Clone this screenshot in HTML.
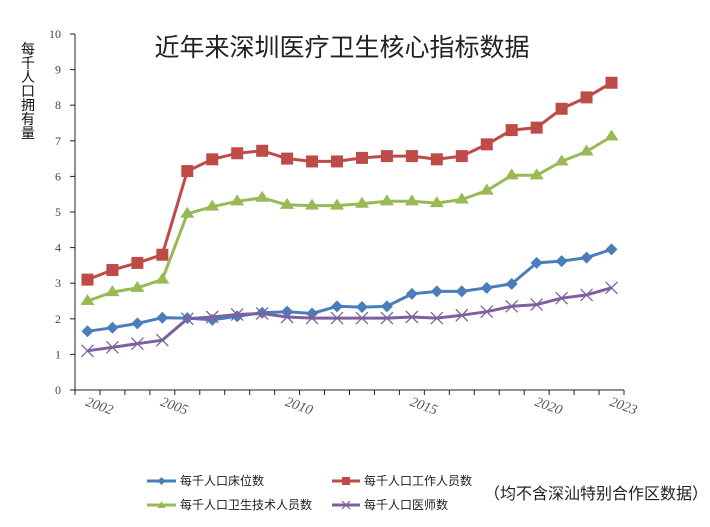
<!DOCTYPE html>
<html><head><meta charset="utf-8"><style>
body{margin:0;background:#fff;}
svg{display:block;font-family:"Liberation Sans","Noto Sans CJK SC",sans-serif;}
</style></head><body>
<svg id="chart" width="710" height="527" viewBox="0 0 710 527">
<text x="342" y="56" text-anchor="middle" font-size="25" fill="#222">近年来深圳医疗卫生核心指标数据</text>
<text x="28" y="54" font-size="14" text-anchor="middle" fill="#111"><tspan x="28" dy="0">每</tspan><tspan x="28" dy="14">千</tspan><tspan x="28" dy="14">人</tspan><tspan x="28" dy="14">口</tspan><tspan x="28" dy="14">拥</tspan><tspan x="28" dy="14">有</tspan><tspan x="28" dy="14">量</tspan></text>
<g id="axes"></g>
<g id="series"></g>
<g font-size="12" fill="#222">
<g><line x1="147" y1="481" x2="176" y2="481" stroke="#4a7ebb" stroke-width="3"/><path d="M161.5 477l4 4-4 4-4-4z" fill="#4a7ebb"/><text x="180" y="485">每千人口床位数</text></g>
<g><line x1="332" y1="481" x2="360" y2="481" stroke="#be4b48" stroke-width="3"/><rect x="342" y="477" width="8" height="8" fill="#be4b48"/><text x="364" y="485">每千人口工作人员数</text></g>
<g><line x1="147" y1="505" x2="176" y2="505" stroke="#98b954" stroke-width="3"/><path d="M161.5 501l4 7h-8z" fill="#98b954"/><text x="180" y="509">每千人口卫生技术人员数</text></g>
<g><line x1="332" y1="505" x2="360" y2="505" stroke="#7d60a0" stroke-width="3"/><path d="M342 501l8 8M350 501l-8 8" stroke="#7d60a0" stroke-width="1.2"/><text x="364" y="509">每千人口医师数</text></g>
</g>
<text x="484" y="499" font-size="16" fill="#222">（均不含深汕特别合作区数据）</text>
</svg>
<script>
const years = [2002,2003,2004,2005,2006,2007,2008,2009,2010,2011,2012,2013,2014,2015,2016,2017,2018,2019,2020,2021,2022,2023];
const beds = [1.65,1.75,1.87,2.03,2.02,1.97,2.07,2.17,2.2,2.15,2.35,2.33,2.35,2.7,2.77,2.77,2.87,2.98,3.57,3.62,3.72,3.95];
const staff = [3.1,3.37,3.57,3.8,6.15,6.48,6.65,6.72,6.5,6.42,6.42,6.52,6.57,6.57,6.48,6.57,6.9,7.3,7.37,7.9,8.22,8.63];
const tech = [2.5,2.75,2.87,3.1,4.95,5.15,5.3,5.4,5.2,5.18,5.18,5.23,5.3,5.3,5.25,5.35,5.6,6.03,6.03,6.42,6.7,7.12];
const doctors = [1.1,1.2,1.3,1.4,2.0,2.05,2.12,2.15,2.05,2.02,2.02,2.02,2.02,2.05,2.02,2.1,2.2,2.35,2.4,2.58,2.67,2.87];
const yTicks = [0,1,2,3,4,5,6,7,8,9,10];
const xLabels = [2002,2005,2010,2015,2020,2023];

const NS = "http://www.w3.org/2000/svg";
const x0 = 75, x1 = 624, yBase = 390, yTop = 34;
const step = (x1 - x0) / years.length;
function xs(i){ return x0 + step * (i + 0.5); }
function ys(v){ return yBase - (yBase - yTop) * v / 10; }
function mk(tag, attrs, parent){ const e = document.createElementNS(NS, tag); for (const k in attrs) e.setAttribute(k, attrs[k]); parent.appendChild(e); return e; }

const axes = document.getElementById('axes');
const yAxis = mk('line', {x1:x0, y1:yTop, x2:x0, y2:yBase, stroke:'#222', 'stroke-width':1}, axes);


const xAxis = mk('line', {x1:x0, y1:yBase, x2:x1, y2:yBase, stroke:'#222', 'stroke-width':1}, axes);


yTicks.forEach(t => {
  mk('line', {x1:x0-5, y1:ys(t), x2:x0, y2:ys(t), stroke:'#222'}, axes);
  const tx = mk('text', {x:x0-14, y:ys(t)+4, 'text-anchor':'end', 'font-size':12, fill:'#444', 'font-family':'"Liberation Serif",serif'}, axes);
  tx.textContent = t;
  
  
});
for (let i = 0; i <= years.length; i++) {
  mk('line', {x1:x0+step*i, y1:yBase, x2:x0+step*i, y2:yBase+5, stroke:'#222'}, axes);
}
xLabels.forEach(y => {
  const i = years.indexOf(y);
  const lx = x0 + step * (i + 1) - 2;
  const tx = mk('text', {x:lx, y:yBase+20, 'text-anchor':'middle', 'font-size':14, fill:'#555', 'font-style':'italic', 'font-family':'"Liberation Serif",serif', transform:`rotate(20 ${lx} ${yBase+20})`}, axes);
  tx.textContent = y;
  
  
});

const series = document.getElementById('series');
function drawSeries(vals, color, marker, name){
  const g = mk('g', {}, series);
  
  
  const pts = vals.map((v,i) => xs(i).toFixed(1) + ',' + ys(v).toFixed(1)).join(' ');
  mk('polyline', {points:pts, fill:'none', stroke:color, 'stroke-width':3, 'stroke-linejoin':'round'}, g);
  vals.forEach((v,i) => {
    const cx = xs(i), cy = ys(v);
    let m;
    if (marker === 'diamond') m = mk('path', {d:`M${cx} ${cy-6}l6 6-6 6-6-6z`, fill:color}, g);
    else if (marker === 'square') m = mk('rect', {x:cx-6, y:cy-6, width:12, height:12, fill:color}, g);
    else if (marker === 'triangle') m = mk('path', {d:`M${cx} ${cy-7}l7 11h-14z`, fill:color}, g);
    else m = mk('path', {d:`M${cx-6} ${cy-6}l12 12M${cx+6} ${cy-6}l-12 12`, stroke:color, 'stroke-width':1.3, fill:'none'}, g);
    
    
  });
}
drawSeries(staff, '#be4b48', 'square', 'series-staff');
drawSeries(tech, '#98b954', 'triangle', 'series-tech');
drawSeries(beds, '#4a7ebb', 'diamond', 'series-beds');
drawSeries(doctors, '#7d60a0', 'x', 'series-doctors');
</script>
</body></html>
